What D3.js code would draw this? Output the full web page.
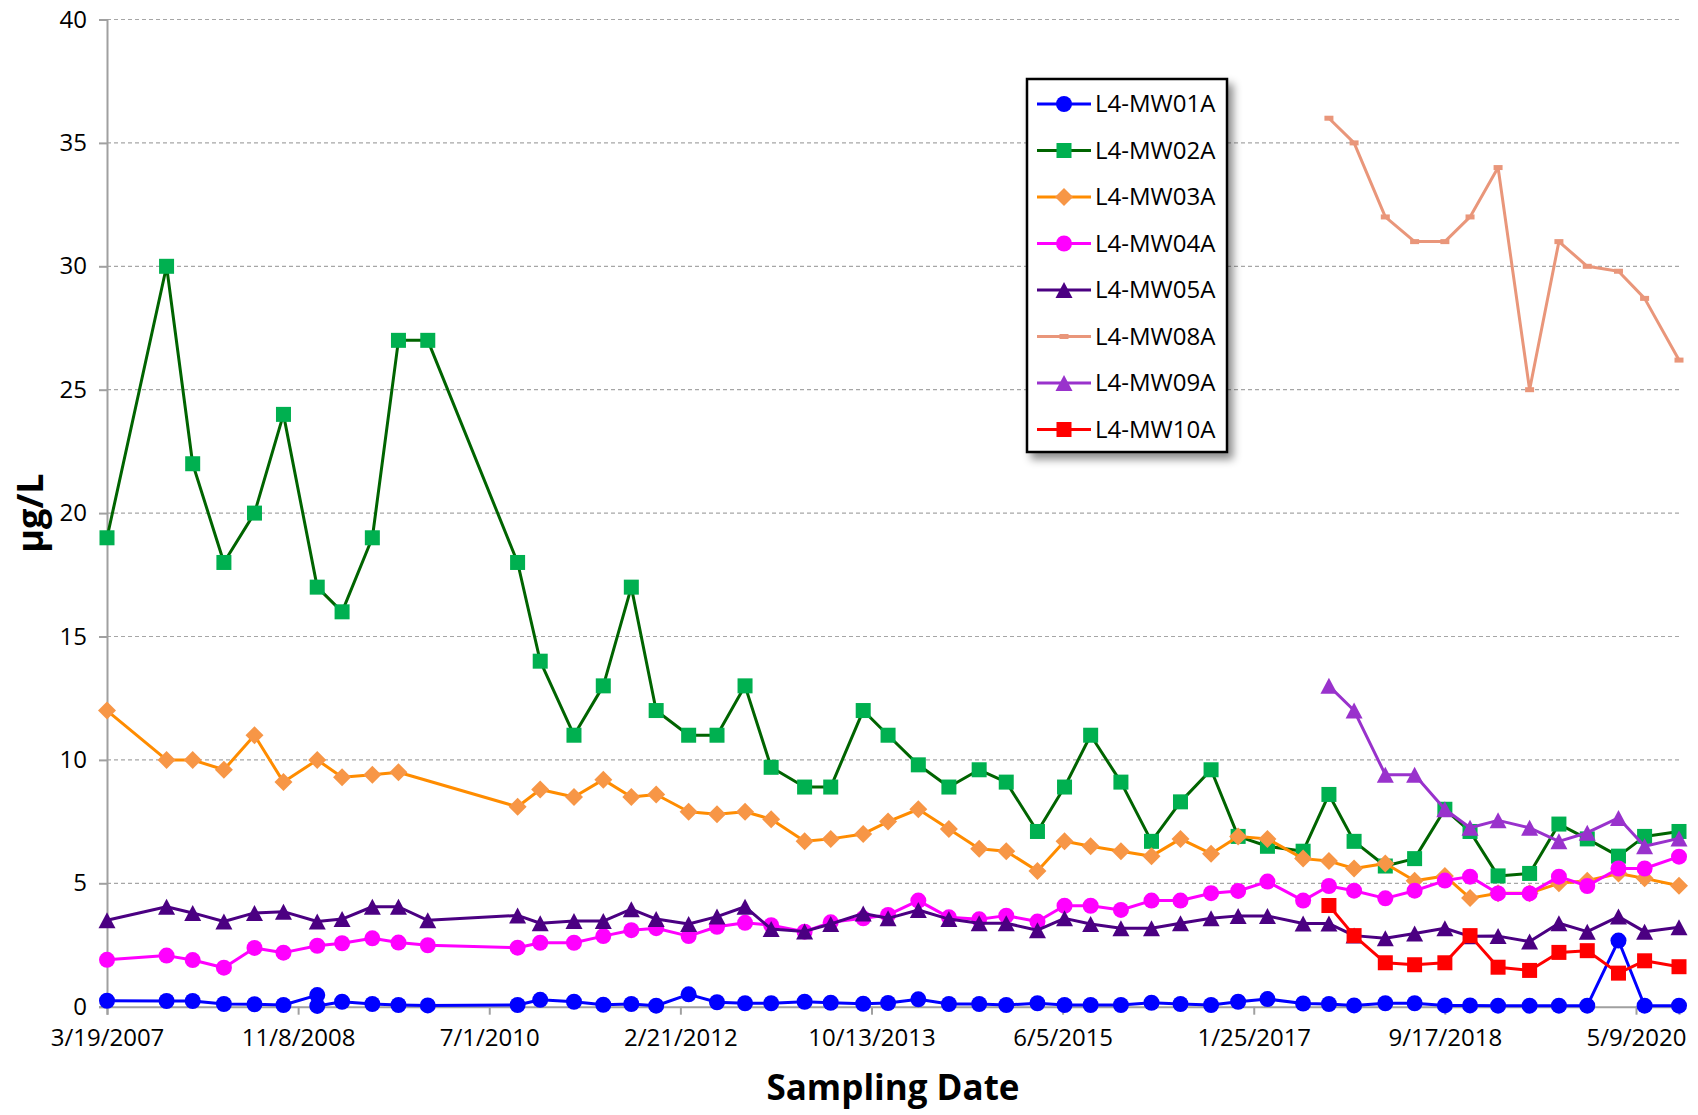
<!DOCTYPE html>
<html><head><meta charset="utf-8">
<script src="https://cdn.jsdelivr.net/npm/d3@7"></script>
<style>
body{margin:0;background:#fff;}
svg{display:block;font-family:'Open Sans',sans-serif;}
</style>
</head><body>
<svg id="chart" width="1698" height="1115"></svg>
<script>
// ---------- DATA ----------
const sampleDates = ["2007-03-19","2007-09-22","2007-12-13","2008-03-20","2008-06-24","2008-09-23","2009-01-07","2009-01-07","2009-03-26","2009-06-29","2009-09-19","2009-12-20","2010-09-28","2010-12-08","2011-03-24","2011-06-24","2011-09-20","2011-12-07","2012-03-18","2012-06-15","2012-09-11","2012-12-02","2013-03-17","2013-06-07","2013-09-17","2013-12-04","2014-03-09","2014-06-13","2014-09-16","2014-12-10","2015-03-18","2015-06-11","2015-09-01","2015-12-05","2016-03-10","2016-06-09","2016-09-13","2016-12-07","2017-03-09","2017-06-29","2017-09-18","2017-12-06","2018-03-14","2018-06-14","2018-09-17","2018-12-05","2019-03-03","2019-06-10","2019-09-10","2019-12-08","2020-03-15","2020-06-05","2020-09-21"];

const mw01a = [0.24,0.23,0.23,0.11,0.10,0.07,0.47,0.03,0.20,0.11,0.07,0.05,0.07,0.28,0.20,0.08,0.11,0.04,0.50,0.18,0.14,0.14,0.20,0.16,0.12,0.15,0.30,0.11,0.11,0.07,0.14,0.07,0.07,0.07,0.16,0.11,0.07,0.20,0.31,0.13,0.11,0.05,0.14,0.14,0.05,0.05,0.04,0.04,0.04,0.04,2.68,0.04,0.04];
const mw02a = [19,30,22,18,20,24,17,null,16,19,27,27,18,14,11,13,17,12,11,11,13,9.7,8.9,8.9,12,11,9.8,8.9,9.6,9.1,7.1,8.9,11,9.1,6.7,8.3,9.6,6.9,6.5,6.3,8.6,6.7,5.7,6.0,8.0,7.1,5.3,5.4,7.4,6.8,6.1,6.9,7.1];
const mw03a = [12,10,10,9.6,11,9.1,10,null,9.3,9.4,9.5,null,8.1,8.8,8.5,9.2,8.5,8.6,7.9,7.8,7.9,7.6,6.7,6.8,7.0,7.5,8.0,7.2,6.4,6.3,5.5,6.7,6.5,6.3,6.1,6.8,6.2,6.9,6.8,6.0,5.9,5.6,5.8,5.1,5.3,4.4,4.6,4.6,5.0,5.1,5.4,5.2,4.9];
const mw04a = [1.9,2.07,1.89,1.58,2.38,2.19,2.47,null,2.57,2.77,2.6,2.49,2.39,2.59,2.59,2.86,3.1,3.18,2.86,3.24,3.4,3.3,3.04,3.42,3.58,3.72,4.3,3.62,3.54,3.69,3.45,4.09,4.09,3.92,4.3,4.3,4.6,4.69,5.07,4.3,4.89,4.7,4.39,4.7,5.11,5.27,4.59,4.59,5.27,4.89,5.6,5.6,6.08];
const mw05a = [3.5,4.05,3.8,3.45,3.8,3.85,3.45,null,3.55,4.05,4.05,3.5,3.7,3.38,3.47,3.47,3.95,3.55,3.35,3.65,4.05,3.15,3.05,3.35,3.78,3.58,3.92,3.55,3.38,3.38,3.1,3.58,3.35,3.18,3.18,3.38,3.58,3.68,3.68,3.37,3.37,2.88,2.77,2.97,3.18,2.85,2.86,2.64,3.38,3.04,3.65,3.04,3.22];
const lateNulls = new Array(40).fill(null); // wells not yet sampled before fall 2017
const mw08a = lateNulls.concat([36,35,32,31,31,32,34,25,31,30,29.8,28.7,26.2]);
const mw09a = lateNulls.concat([13,12,9.4,9.4,8.0,7.25,7.55,7.25,6.7,7.05,7.65,6.5,6.82]);
const mw10a = lateNulls.concat([4.1,2.88,1.78,1.7,1.78,2.88,1.6,1.47,2.2,2.27,1.36,1.86,1.62]);

const seriesNames = ["L4-MW01A","L4-MW02A","L4-MW03A","L4-MW04A","L4-MW05A","L4-MW08A","L4-MW09A","L4-MW10A"];
const seriesValues = [mw01a,mw02a,mw03a,mw04a,mw05a,mw08a,mw09a,mw10a];
const xTickLabels = ["3/19/2007","11/8/2008","7/1/2010","2/21/2012","10/13/2013","6/5/2015","1/25/2017","9/17/2018","5/9/2020"];
const yTickValues = [0,5,10,15,20,25,30,35,40];
const xTitle = "Sampling Date";
const yTitle = "µg/L";

// ---------- STYLE ----------
const styles = [
  {line:"#0000FF", fill:"#0000FF", shape:"circle"},
  {line:"#006400", fill:"#00B050", shape:"square"},
  {line:"#FF8C00", fill:"#F79646", shape:"diamond"},
  {line:"#FF00FF", fill:"#FF00FF", shape:"circle"},
  {line:"#4B0082", fill:"#4B0082", shape:"triangle"},
  {line:"#E9967A", fill:"#E9967A", shape:"dash"},
  {line:"#9932CC", fill:"#9932CC", shape:"triangle"},
  {line:"#FF0000", fill:"#FF0000", shape:"square"}
];

const svg = d3.select("#chart");
const m = {left:107, right:1679, top:19.5, bottom:1006.7};
const parseISO = d3.utcParse("%Y-%m-%d");
const parseTick = d3.utcParse("%m/%d/%Y");
const dates = sampleDates.map(parseISO);

const x = d3.scaleUtc().domain([dates[0], dates[dates.length-1]]).range([m.left, m.right]);
const y = d3.scaleLinear().domain([0,40]).range([m.bottom, m.top]);

const defs = svg.append("defs");
const f = defs.append("filter").attr("id","shadow").attr("x","-10%").attr("y","-10%").attr("width","130%").attr("height","130%");
f.append("feDropShadow").attr("dx",5).attr("dy",6).attr("stdDeviation",4).attr("flood-color","#000").attr("flood-opacity",0.45);

// gridlines
svg.append("g").selectAll("line").data(yTickValues.filter(v=>v>0)).join("line")
  .attr("x1",m.left).attr("x2",m.right)
  .attr("y1",d=>y(d)).attr("y2",d=>y(d))
  .attr("stroke","#A6A6A6").attr("stroke-width",1.2).attr("stroke-dasharray","4,3");

// y axis
const yAxis = d3.axisLeft(y).tickValues(yTickValues).tickSize(8).tickPadding(12);
const gy = svg.append("g").attr("transform",`translate(${m.left},0)`).call(yAxis);
gy.select(".domain").attr("stroke","#A0A0A0").attr("stroke-width",2);
gy.selectAll(".tick line").attr("stroke","#A0A0A0").attr("stroke-width",2);
gy.selectAll(".tick text").attr("font-size",24).attr("font-family","'Open Sans',sans-serif").attr("fill","#000");

// x axis
const xTicks = xTickLabels.map(parseTick);
const xAxis = d3.axisBottom(x).tickValues(xTicks).tickSize(8).tickPadding(14)
  .tickFormat((d,i)=>xTickLabels[i]);
const gx = svg.append("g").attr("transform",`translate(0,${m.bottom})`).call(xAxis);
gx.select(".domain").attr("stroke","#A0A0A0").attr("stroke-width",2);
gx.selectAll(".tick line").attr("stroke","#A0A0A0").attr("stroke-width",2);
gx.selectAll(".tick text").attr("font-size",24).attr("font-family","'Open Sans',sans-serif").attr("fill","#000");

// titles
svg.append("text").attr("x",893).attr("y",1100).attr("text-anchor","middle")
  .attr("font-size",35).attr("font-weight","bold").text(xTitle);
svg.append("text").attr("transform","translate(43,513) rotate(-90)").attr("text-anchor","middle")
  .attr("font-size",36).attr("font-weight","bold").text(yTitle);

// markers
function drawMarker(g, shape, cx, cy, st){
  if(shape==="circle"){
    g.append("circle").attr("cx",cx).attr("cy",cy).attr("r",8).attr("fill",st.fill);
  } else if(shape==="square"){
    const s=15;
    g.append("rect").attr("x",cx-s/2).attr("y",cy-s/2).attr("width",s).attr("height",s).attr("fill",st.fill);
  } else if(shape==="diamond"){
    const h=9;
    g.append("path").attr("d",`M${cx},${cy-h}L${cx+h},${cy}L${cx},${cy+h}L${cx-h},${cy}Z`).attr("fill",st.fill);
  } else if(shape==="triangle"){
    const w=8.5, h=8;
    g.append("path").attr("d",`M${cx},${cy-h}L${cx+w},${cy+h}L${cx-w},${cy+h}Z`).attr("fill",st.fill);
  } else if(shape==="dash"){
    g.append("rect").attr("x",cx-4.5).attr("y",cy-2.5).attr("width",9).attr("height",5).attr("fill",st.fill);
  }
}

const line = d3.line().x(d=>x(d.date)).y(d=>y(d.v));
seriesValues.forEach((vals,si)=>{
  const st = styles[si];
  const pts = dates.map((d,i)=>({date:d, v:vals[i]})).filter(p=>p.v!==null && p.v!==undefined);
  const g = svg.append("g");
  g.append("path").datum(pts).attr("d",line).attr("fill","none")
    .attr("stroke",st.line).attr("stroke-width",3).attr("stroke-linejoin","round");
  pts.forEach(p=>drawMarker(g, st.shape, x(p.date), y(p.v), st));
});

// legend
const L = {x:1027, y:79, w:200, h:373};
const lg = svg.append("g");
lg.append("rect").attr("x",L.x).attr("y",L.y).attr("width",L.w).attr("height",L.h)
  .attr("fill","#fff").attr("stroke","#000").attr("stroke-width",2.5).attr("filter","url(#shadow)");
seriesNames.forEach((name,i)=>{
  const cy = 104 + i*46.5;
  const st = styles[i];
  lg.append("line").attr("x1",1037).attr("x2",1091).attr("y1",cy).attr("y2",cy)
    .attr("stroke",st.line).attr("stroke-width",3);
  drawMarker(lg, st.shape, 1064, cy, st);
  lg.append("text").attr("x",1095).attr("y",cy).attr("dy","0.35em")
    .attr("font-size",24).text(name);
});
</script>
</body></html>
